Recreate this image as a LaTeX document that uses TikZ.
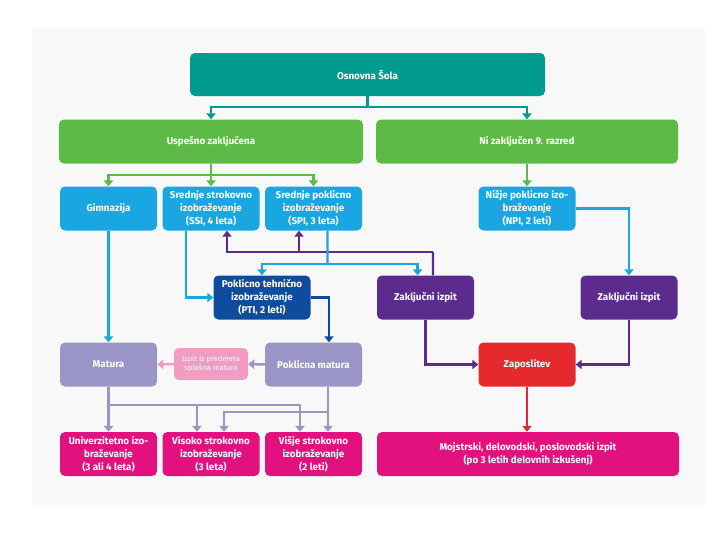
\documentclass[tikz,border=0pt]{standalone}
\usepackage{fontspec}
\setmainfont{Fira Sans}
\usetikzlibrary{arrows.meta}
\definecolor{bgpaper}{HTML}{F8F8F8}
\definecolor{schoolteal}{HTML}{009B8F}
\definecolor{passgreen}{HTML}{5DBA47}
\definecolor{educyan}{HTML}{1AA7E1}
\definecolor{ptiblue}{HTML}{0F4C9D}
\definecolor{exampurple}{HTML}{5B2C8E}
\definecolor{maturalav}{HTML}{9A95C7}
\definecolor{izpitpink}{HTML}{F39BC2}
\definecolor{jobred}{HTML}{E52A2E}
\definecolor{highmagenta}{HTML}{E2117F}

\begin{document}
\begin{tikzpicture}[x=0.3mm,y=-0.3mm,
box/.style={rounded corners=1.5mm,text=white,align=center,font=\bfseries\fontsize{8.4}{11}\selectfont,
minimum width=29.1mm,minimum height=13.2mm,inner sep=0.5mm},
wide/.style={box,minimum width=90.6mm},
link/.style={line width=2.1pt},
arrow/.style={link,-{Triangle[length=1.8mm,width=2.8mm]}}]
\useasboundingbox (0,0) rectangle (720,540);
\fill[bgpaper] (32,27) rectangle (705,505);
\node[box,fill=schoolteal,minimum width=106.5mm,minimum height=12.9mm] (school) at (367.5,74.5) {Osnovna Šola};
\node[wide,fill=passgreen,minimum width=91.2mm] (passed) at (211,141.5) {Uspešno zaključena};
\node[wide,fill=passgreen] (failed) at (527,141.5) {Ni zaključen 9. razred};
\node[box,fill=educyan] (gim) at (108.5,208.5) {Gimnazija};
\node[box,fill=educyan] (ssi) at (211,208.5) {Srednje strokovno\\izobraževanje\\(SSI, 4 leta)};
\node[box,fill=educyan] (spi) at (313.5,208.5) {Srednje poklicno\\izobraževanje\\(SPI, 3 leta)};
\node[box,fill=educyan] (npi) at (527,208.5) {Nižje poklicno izo-\\braževanje\\(NPI, 2 leti)};
\node[box,fill=ptiblue] (pti) at (262,297.5) {Poklicno tehnično\\izobraževanje\\(PTI, 2 leti)};
\node[box,fill=exampurple] (exam1) at (425.5,297.5) {Zaključni izpit};
\node[box,fill=exampurple] (exam2) at (629,297.5) {Zaključni izpit};
\node[box,fill=maturalav] (matura) at (108.5,364.5) {Matura};
\node[box,fill=izpitpink,minimum width=22.2mm,minimum height=9.6mm,font=\fontsize{6.5}{8}\selectfont] (izpit) at (211,364) {Izpit iz predmeta\\splošna matura};
\node[box,fill=maturalav] (pmatura) at (313.5,364.5) {Poklicna matura};
\node[box,fill=jobred] (job) at (527,364.5) {Zaposlitev};
\node[box,fill=highmagenta] (uni) at (108.5,454) {Univerzitetno izo-\\braževanje\\(3 ali 4 leta)};
\node[box,fill=highmagenta] (visoko) at (211,454) {Visoko strokovno\\izobraževanje\\(3 leta)};
\node[box,fill=highmagenta] (visje) at (313.5,454) {Višje strokovno\\izobraževanje\\(2 leti)};
\node[wide,fill=highmagenta] (master) at (528,454) {Mojstrski, delovodski, poslovodski izpit\\(po 3 letih delovnih izkušenj)};
\coordinate (sbranch) at (367.5,107);
\coordinate (gbranch) at (211,175);
\coordinate (hub) at (433,252);
\coordinate (split) at (327.5,264);
\coordinate (mbranch) at (108.5,405);
\coordinate (pbranch) at (328,412);
\draw[link,schoolteal] (school.south) -- (sbranch);
\draw[arrow,schoolteal] (sbranch) -| (passed.north);
\draw[arrow,schoolteal] (sbranch) -| (failed.north);
\draw[link,passgreen] (passed.south) -- (gbranch);
\draw[arrow,passgreen] (gbranch) -| (gim.north);
\draw[arrow,passgreen] (gbranch) -- (ssi.north);
\draw[arrow,passgreen] (gbranch) -| (spi.north);
\draw[arrow,passgreen] (failed.south) -- (npi.north);
\draw[link,exampurple] ([xshift=2.25mm]exam1.north) -- (hub);
\draw[arrow,exampurple] (hub) -| ([xshift=4.8mm]ssi.south);
\draw[arrow,exampurple] (hub) -| ([xshift=-4.35mm]spi.south);
\draw[link,educyan] ([xshift=4.2mm]spi.south) -- (split);
\draw[arrow,educyan] (split) -| (pti.north);
\draw[arrow,educyan] (split) -| ([xshift=-2.4mm]exam1.north);
\draw[arrow,educyan] ([xshift=-7.5mm]ssi.south) |- (pti.west);
\draw[arrow,educyan] (npi.east) -| (exam2.north);
\draw[arrow,educyan] (gim.south) -- (matura.north);
\draw[arrow,ptiblue] (pti.east) -| ([xshift=4.65mm]pmatura.north);
\draw[arrow,maturalav] (pmatura.west) -- (izpit.east);
\draw[arrow,izpitpink] (izpit.west) -- (matura.east);
\draw[arrow,exampurple] (exam1.south) |- (job.west);
\draw[arrow,exampurple] (exam2.south) |- (job.east);
\draw[arrow,jobred] (job.south) -- (job.south |- master.north);
\draw[arrow,maturalav] (matura.south) -- (uni.north);
\draw[arrow,maturalav] (mbranch) -| ([xshift=-4.2mm]visoko.north);
\draw[arrow,maturalav] (mbranch) -| ([xshift=-4.05mm]visje.north);
\draw[arrow,maturalav] ([xshift=4.35mm]pmatura.south) -- ([xshift=4.35mm]visje.north);
\draw[arrow,maturalav] (pbranch) -| ([xshift=3.9mm]visoko.north);
\end{tikzpicture}
\end{document}
